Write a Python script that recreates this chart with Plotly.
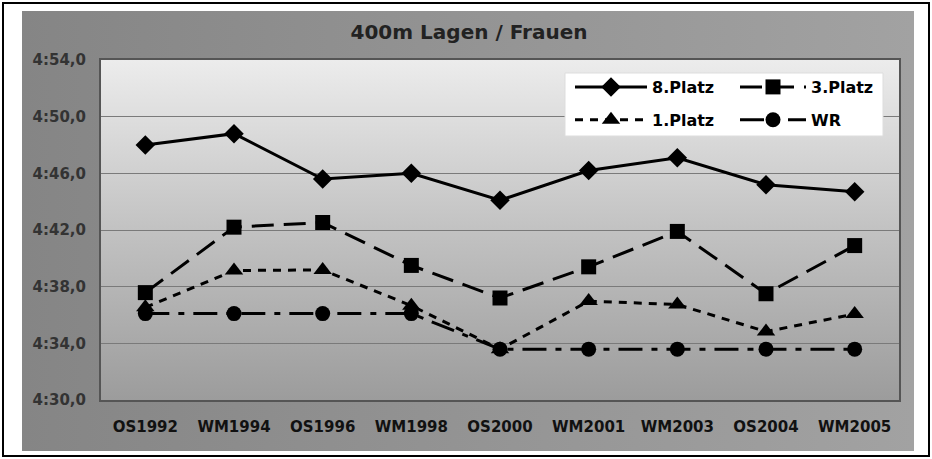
import base64
import plotly.graph_objects as go

# Wettkämpfe (x-Achse)
events = ["OS1992", "WM1994", "OS1996", "WM1998", "OS2000",
          "WM2001", "WM2003", "OS2004", "WM2005"]

# Zeiten in Sekunden
platz8 = [288.0, 288.8, 285.6, 286.0, 284.1, 286.2, 287.1, 285.2, 284.7]
platz3 = [277.58, 282.2, 282.53, 279.5, 277.2, 279.4, 281.9, 277.5, 280.9]
platz1 = [276.54, 279.14, 279.18, 276.66, 273.59, 276.98, 276.74, 274.83, 276.07]
wr = [276.10, 276.10, 276.10, 276.10, 273.59, 273.59, 273.59, 273.59, 273.59]

y_ticks = [270, 274, 278, 282, 286, 290, 294]
y_tick_labels = ["4:30,0", "4:34,0", "4:38,0", "4:42,0", "4:46,0", "4:50,0", "4:54,0"]

W, H = 932, 459
ML, MR, MT, MB = 101, 33, 60, 59
PW, PH = W - ML - MR, H - MT - MB

FONT = "DejaVu Sans"


def px_x(p):
    return (p - ML) / PW


def px_y(p):
    return (H - MB - p) / PH


def gradient_uri(stops, horizontal=False):
    x2, y2 = ("1", "0") if horizontal else ("0", "1")
    stop_tags = "".join(
        f'<stop offset="{o}" stop-color="{c}"/>' for o, c in stops)
    svg = (
        '<svg xmlns="http://www.w3.org/2000/svg" width="100" height="100" '
        'viewBox="0 0 100 100" preserveAspectRatio="none">'
        f'<defs><linearGradient id="g" x1="0" y1="0" x2="{x2}" y2="{y2}">'
        f'{stop_tags}</linearGradient></defs>'
        '<rect width="100" height="100" fill="url(#g)"/></svg>'
    )
    return "data:image/svg+xml;base64," + base64.b64encode(svg.encode()).decode()


fig = go.Figure()

series = [
    ("8.Platz", platz8, "diamond", 15, "solid", "legend"),
    ("3.Platz", platz3, "square", 15, "22px,10px", "legend2"),
    ("1.Platz", platz1, "triangle-up", 16, "8px,7px", "legend"),
    ("WR", wr, "circle", 15, "24px,9px,6px,9px", "legend2"),
]

for name, vals, sym, size, dash, leg in series:
    fig.add_trace(go.Scatter(
        x=events, y=vals, name=name, mode="lines+markers",
        line=dict(color="black", width=3, dash=dash),
        marker=dict(symbol=sym, size=size, color="black"),
        legend=leg, legendgroup=name,
    ))

legend_font = dict(family=FONT, size=16, color="black", weight="bold")

fig.update_layout(
    width=W, height=H,
    margin=dict(l=ML, r=MR, t=MT, b=MB),
    paper_bgcolor="white",
    plot_bgcolor="rgba(0,0,0,0)",
    title=dict(
        text="400m Lagen / Frauen",
        x=469 / W, xref="container", xanchor="center",
        y=1 - 32 / H, yanchor="middle",
        font=dict(family=FONT, size=20, color="#222222", weight="bold"),
    ),
    xaxis=dict(
        type="category", range=[-0.5, len(events) - 0.5],
        showgrid=False, zeroline=False,
        showline=True, linecolor="#555555", linewidth=2, mirror=True,
        ticks="outside", ticklen=12, tickcolor="rgba(0,0,0,0)",
        tickfont=dict(family=FONT, size=15, color="#111111", weight="bold"),
    ),
    yaxis=dict(
        range=[270, 294], tickvals=y_ticks, ticktext=y_tick_labels,
        showgrid=True, gridcolor="#7a7a7a", gridwidth=1, zeroline=False,
        showline=True, linecolor="#555555", linewidth=2, mirror=True,
        ticks="outside", ticklen=10, tickcolor="rgba(0,0,0,0)",
        tickfont=dict(family=FONT, size=15, color="#333333", weight="bold"),
    ),
    legend=dict(
        x=px_x(570), xanchor="left", y=px_y(70), yanchor="top",
        bgcolor="rgba(0,0,0,0)", borderwidth=0,
        font=legend_font, itemwidth=72,
        traceorder="grouped", tracegroupgap=9,
    ),
    legend2=dict(
        x=px_x(735), xanchor="left", y=px_y(70), yanchor="top",
        bgcolor="rgba(0,0,0,0)", borderwidth=0,
        font=legend_font, itemwidth=66,
        traceorder="grouped", tracegroupgap=9,
    ),
    showlegend=True,
    images=[
        # grey chart panel
        dict(source=gradient_uri([(0, "#858585"), (1, "#a2a2a2")], horizontal=True),
             xref="paper", yref="paper",
             x=px_x(22), y=px_y(11), sizex=(914 - 22) / PW, sizey=(451 - 11) / PH,
             xanchor="left", yanchor="top", sizing="stretch", layer="below"),
        # plot area fill
        dict(source=gradient_uri([(0, "#ececec"), (0.5, "#c2c2c2"), (1, "#9c9c9c")]),
             xref="paper", yref="paper", x=0, y=1, sizex=1, sizey=1,
             xanchor="left", yanchor="top", sizing="stretch", layer="below"),
    ],
    shapes=[
        # legend box
        dict(type="rect", xref="paper", yref="paper",
             x0=px_x(565), x1=px_x(883), y0=px_y(136), y1=px_y(73),
             fillcolor="white", line=dict(color="#dddddd", width=1), layer="above"),
        # outer frame
        dict(type="rect", xref="paper", yref="paper",
             x0=px_x(3), x1=px_x(929), y0=px_y(456), y1=px_y(3),
             fillcolor="rgba(0,0,0,0)", line=dict(color="black", width=2), layer="above"),
    ],
)

fig.write_html("out.html")
